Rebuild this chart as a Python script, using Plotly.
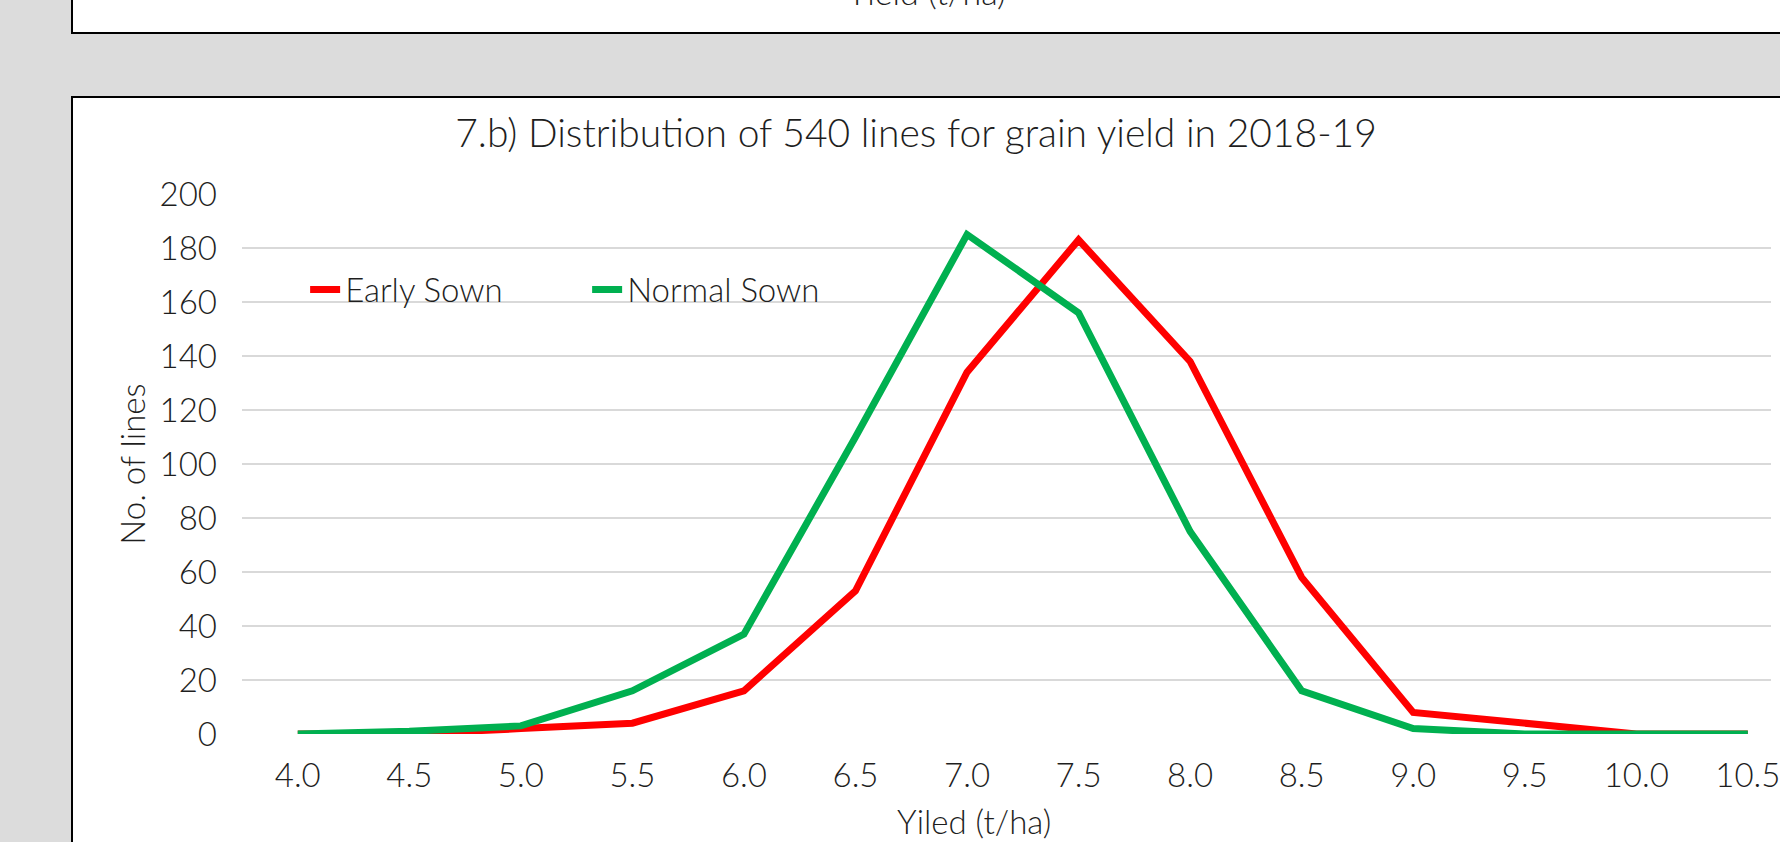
import plotly.graph_objects as go

# ---- data ----
categories = ["4.0", "4.5", "5.0", "5.5", "6.0", "6.5", "7.0", "7.5",
              "8.0", "8.5", "9.0", "9.5", "10.0", "10.5"]
early_sown = [0, 0, 2, 4, 16, 53, 134, 183, 138, 58, 8, 4, 0, 0]
normal_sown = [0, 1, 3, 16, 37, 110, 185, 156, 75, 16, 2, 0, 0, 0]
y_ticks = [0, 20, 40, 60, 80, 100, 120, 140, 160, 180, 200]

title_text = "7.b) Distribution of 540 lines for grain yield in 2018-19"
x_title = "Yiled (t/ha)"
y_title = "No. of lines"
prev_chart_x_title = "Yield (t/ha)"

# ---- layout geometry (pixels) ----
W, H = 1780, 842
L, R, T, B = 242, 0, 194, 108
PW = W - L - R
PH = H - T - B
CAT_STEP = 112.2


def xp(px):
    return (px - L) / PW


def yp(py):
    return (H - B - py) / PH


FONT = "Lato, 'Open Sans', 'DejaVu Sans', sans-serif"
TXT = "#1e1e1e"
FS = 33

fig = go.Figure()
fig.add_trace(go.Scatter(x=categories, y=early_sown, name="Early Sown",
                         mode="lines",
                         line=dict(color="#FF0000", width=7)))
fig.add_trace(go.Scatter(x=categories, y=normal_sown, name="Normal Sown",
                         mode="lines",
                         line=dict(color="#00B050", width=7)))

fig.update_layout(
    width=W, height=H,
    margin=dict(l=L, r=R, t=T, b=B, pad=0),
    paper_bgcolor="#dcdcdc",
    plot_bgcolor="rgba(0,0,0,0)",
    font=dict(family=FONT, size=FS, color=TXT, weight=300),
    title=dict(text=title_text, x=xp(920), xref="paper", xanchor="center",
               y=1 - 133 / H, yref="container", yanchor="middle",
               font=dict(family=FONT, size=39, color=TXT, weight=300)),
    showlegend=True,
    legend=dict(orientation="h", x=xp(305.5), y=yp(289.5), xanchor="left",
                yanchor="middle", bgcolor="rgba(0,0,0,0)",
                font=dict(family=FONT, size=FS, color=TXT, weight=300),
                entrywidth=237, entrywidthmode="pixels", tracegroupgap=0),
    xaxis=dict(type="category", range=[-0.5, -0.5 + PW / CAT_STEP],
               showgrid=False, zeroline=False, showline=False, ticks="",
               ticklabelstandoff=19,
               tickfont=dict(family=FONT, size=FS, color=TXT, weight=300)),
    yaxis=dict(range=[0, 200], tickvals=y_ticks, showgrid=True,
               gridcolor="#d9d9d9", gridwidth=2, zeroline=False,
               showline=False, ticks="", ticklabelstandoff=24,
               tickfont=dict(family=FONT, size=FS, color=TXT, weight=300)),
    shapes=[
        dict(type="rect", xref="paper", yref="paper", layer="below",
             x0=xp(71), x1=xp(1850), y0=yp(33), y1=yp(-60),
             fillcolor="white", line=dict(color="black", width=2)),
        dict(type="rect", xref="paper", yref="paper", layer="below",
             x0=xp(71), x1=xp(1850), y0=yp(97), y1=yp(950),
             fillcolor="white", line=dict(color="black", width=2)),
    ],
    annotations=[
        dict(text=x_title, xref="paper", yref="paper", x=xp(978), y=yp(821),
             xanchor="center", yanchor="middle", showarrow=False,
             font=dict(family=FONT, size=33, color=TXT, weight=300)),
        dict(text=y_title, xref="paper", yref="paper", x=xp(131), y=yp(464),
             xanchor="center", yanchor="middle", textangle=-90,
             showarrow=False,
             font=dict(family=FONT, size=FS, color=TXT, weight=300)),
        dict(text=prev_chart_x_title, xref="paper", yref="paper", x=xp(931),
             y=yp(14), xanchor="center", yanchor="bottom", showarrow=False,
             font=dict(family=FONT, size=34, color=TXT, weight=300)),
    ],
)

fig.write_html("out.html")
